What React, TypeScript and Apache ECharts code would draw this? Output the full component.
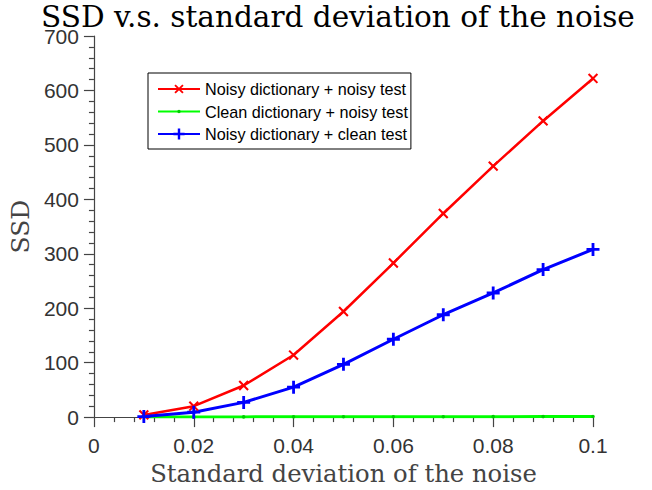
import React, { useEffect, useRef } from "react";
import * as echarts from "echarts";

const titleText = "SSD v.s. standard deviation of the noise";
const xAxisName = "Standard deviation of the noise";
const yAxisName = "SSD";
const seriesNames = [
  "Noisy dictionary + noisy test",
  "Clean dictionary + noisy test",
  "Noisy dictionary + clean test",
];
const noiseStd = [0.01, 0.02, 0.03, 0.04, 0.05, 0.06, 0.07, 0.08, 0.09, 0.1];
const noisyDictNoisyTest = [4, 20, 58, 114, 194, 283, 374, 461, 544, 622];
const cleanDictNoisyTest = [0.2, 0.3, 0.4, 0.5, 0.6, 0.6, 0.7, 0.8, 0.9, 1.0];
const noisyDictCleanTest = [1, 9, 27, 55, 97, 143, 188, 228, 271, 308];

const plusThin = "path://M-1,-6L1,-6L1,6L-1,6Z M-6,-1L6,-1L6,1L-6,1Z";
const plusThick = "path://M-1.3,-6L1.3,-6L1.3,6L-1.3,6Z M-6,-1.3L6,-1.3L6,1.3L-6,1.3Z";
const smallDot =
  "path://M-6,-6L-6,-6Z M6,6L6,6Z M-1.8,0A1.8,1.8,0,1,1,1.8,0A1.8,1.8,0,1,1,-1.8,0Z";

const pairs = (ys: number[]) => noiseStd.map((x, i) => [x, ys[i]]);

export default function App() {
  const ref = useRef<HTMLDivElement>(null);
  useEffect(() => {
    if (!ref.current) return;
    const chart = echarts.init(ref.current, null, { renderer: "svg" });
    const axisColor = "#444";
    const labelColor = "#333";
    const serif = "DejaVu Serif";
    const sans = "Liberation Sans";
    chart.setOption({
      animation: false,
      backgroundColor: "#fff",
      title: {
        text: titleText,
        left: 41,
        top: 7,
        padding: 0,
        textStyle: {
          fontFamily: serif,
          fontSize: 29.5,
          lineHeight: 20,
          fontWeight: "normal",
          color: "#000",
        },
      },
      legend: {
        orient: "vertical",
        left: 148,
        top: 73,
        padding: [8, 3, 7, 9],
        itemWidth: 42,
        itemHeight: 14,
        itemGap: 6.5,
        borderColor: "#000",
        borderWidth: 1,
        borderRadius: 0,
        backgroundColor: "#fff",
        textStyle: { fontFamily: sans, fontSize: 16.2, color: "#000", lineHeight: 14 },
        data: seriesNames,
      },
      grid: { left: 92, right: 59, top: 36, bottom: 69, containLabel: false },
      xAxis: {
        type: "value",
        min: 0,
        max: 0.1,
        interval: 0.02,
        name: xAxisName,
        nameLocation: "middle",
        nameGap: 34,
        nameTextStyle: { fontFamily: serif, fontSize: 24.3, color: "#444" },
        axisLine: { onZero: false, lineStyle: { color: axisColor, width: 1.2 } },
        axisTick: { show: true, inside: false, length: 10, lineStyle: { color: axisColor, width: 1.2 } },
        minorTick: { show: true, splitNumber: 5, length: 5, lineStyle: { color: axisColor, width: 1.2 } },
        splitLine: { show: false },
        axisLabel: {
          margin: 18,
          fontFamily: sans,
          fontSize: 21,
          color: labelColor,
          formatter: (v: number) => String(Math.round(v * 100) / 100),
        },
      },
      yAxis: {
        type: "value",
        min: 0,
        max: 700,
        interval: 100,
        name: yAxisName,
        nameLocation: "middle",
        nameGap: 51,
        nameRotate: 90,
        nameTextStyle: { fontFamily: serif, fontSize: 25, color: "#444" },
        axisLine: { show: true, lineStyle: { color: axisColor, width: 1.2 } },
        axisTick: { show: true, inside: false, length: 10, lineStyle: { color: axisColor, width: 1.2 } },
        minorTick: { show: true, splitNumber: 5, length: 5, lineStyle: { color: axisColor, width: 1.2 } },
        splitLine: { show: false },
        axisLabel: { margin: 15, fontFamily: sans, fontSize: 21, lineHeight: 16, color: labelColor },
      },
      series: [
        {
          name: seriesNames[0],
          type: "line",
          data: pairs(noisyDictNoisyTest),
          symbol: plusThin,
          symbolRotate: 45,
          symbolSize: 12.5,
          showAllSymbol: true,
          lineStyle: { color: "#ff0000", width: 2.5 },
          itemStyle: { color: "#ff0000" },
        },
        {
          name: seriesNames[1],
          type: "line",
          data: pairs(cleanDictNoisyTest),
          symbol: smallDot,
          symbolSize: 12,
          showAllSymbol: true,
          lineStyle: { color: "#00ff00", width: 3 },
          itemStyle: { color: "#00cc00" },
        },
        {
          name: seriesNames[2],
          type: "line",
          data: pairs(noisyDictCleanTest),
          symbol: plusThick,
          symbolSize: 13,
          showAllSymbol: true,
          lineStyle: { color: "#0000ff", width: 3 },
          itemStyle: { color: "#0000ff" },
        },
      ],
    });
    return () => chart.dispose();
  }, []);
  return (
    <div
      ref={ref}
      style={{ position: "fixed", left: 0, top: 0, width: 652, height: 490, background: "#fff" }}
    />
  );
}
